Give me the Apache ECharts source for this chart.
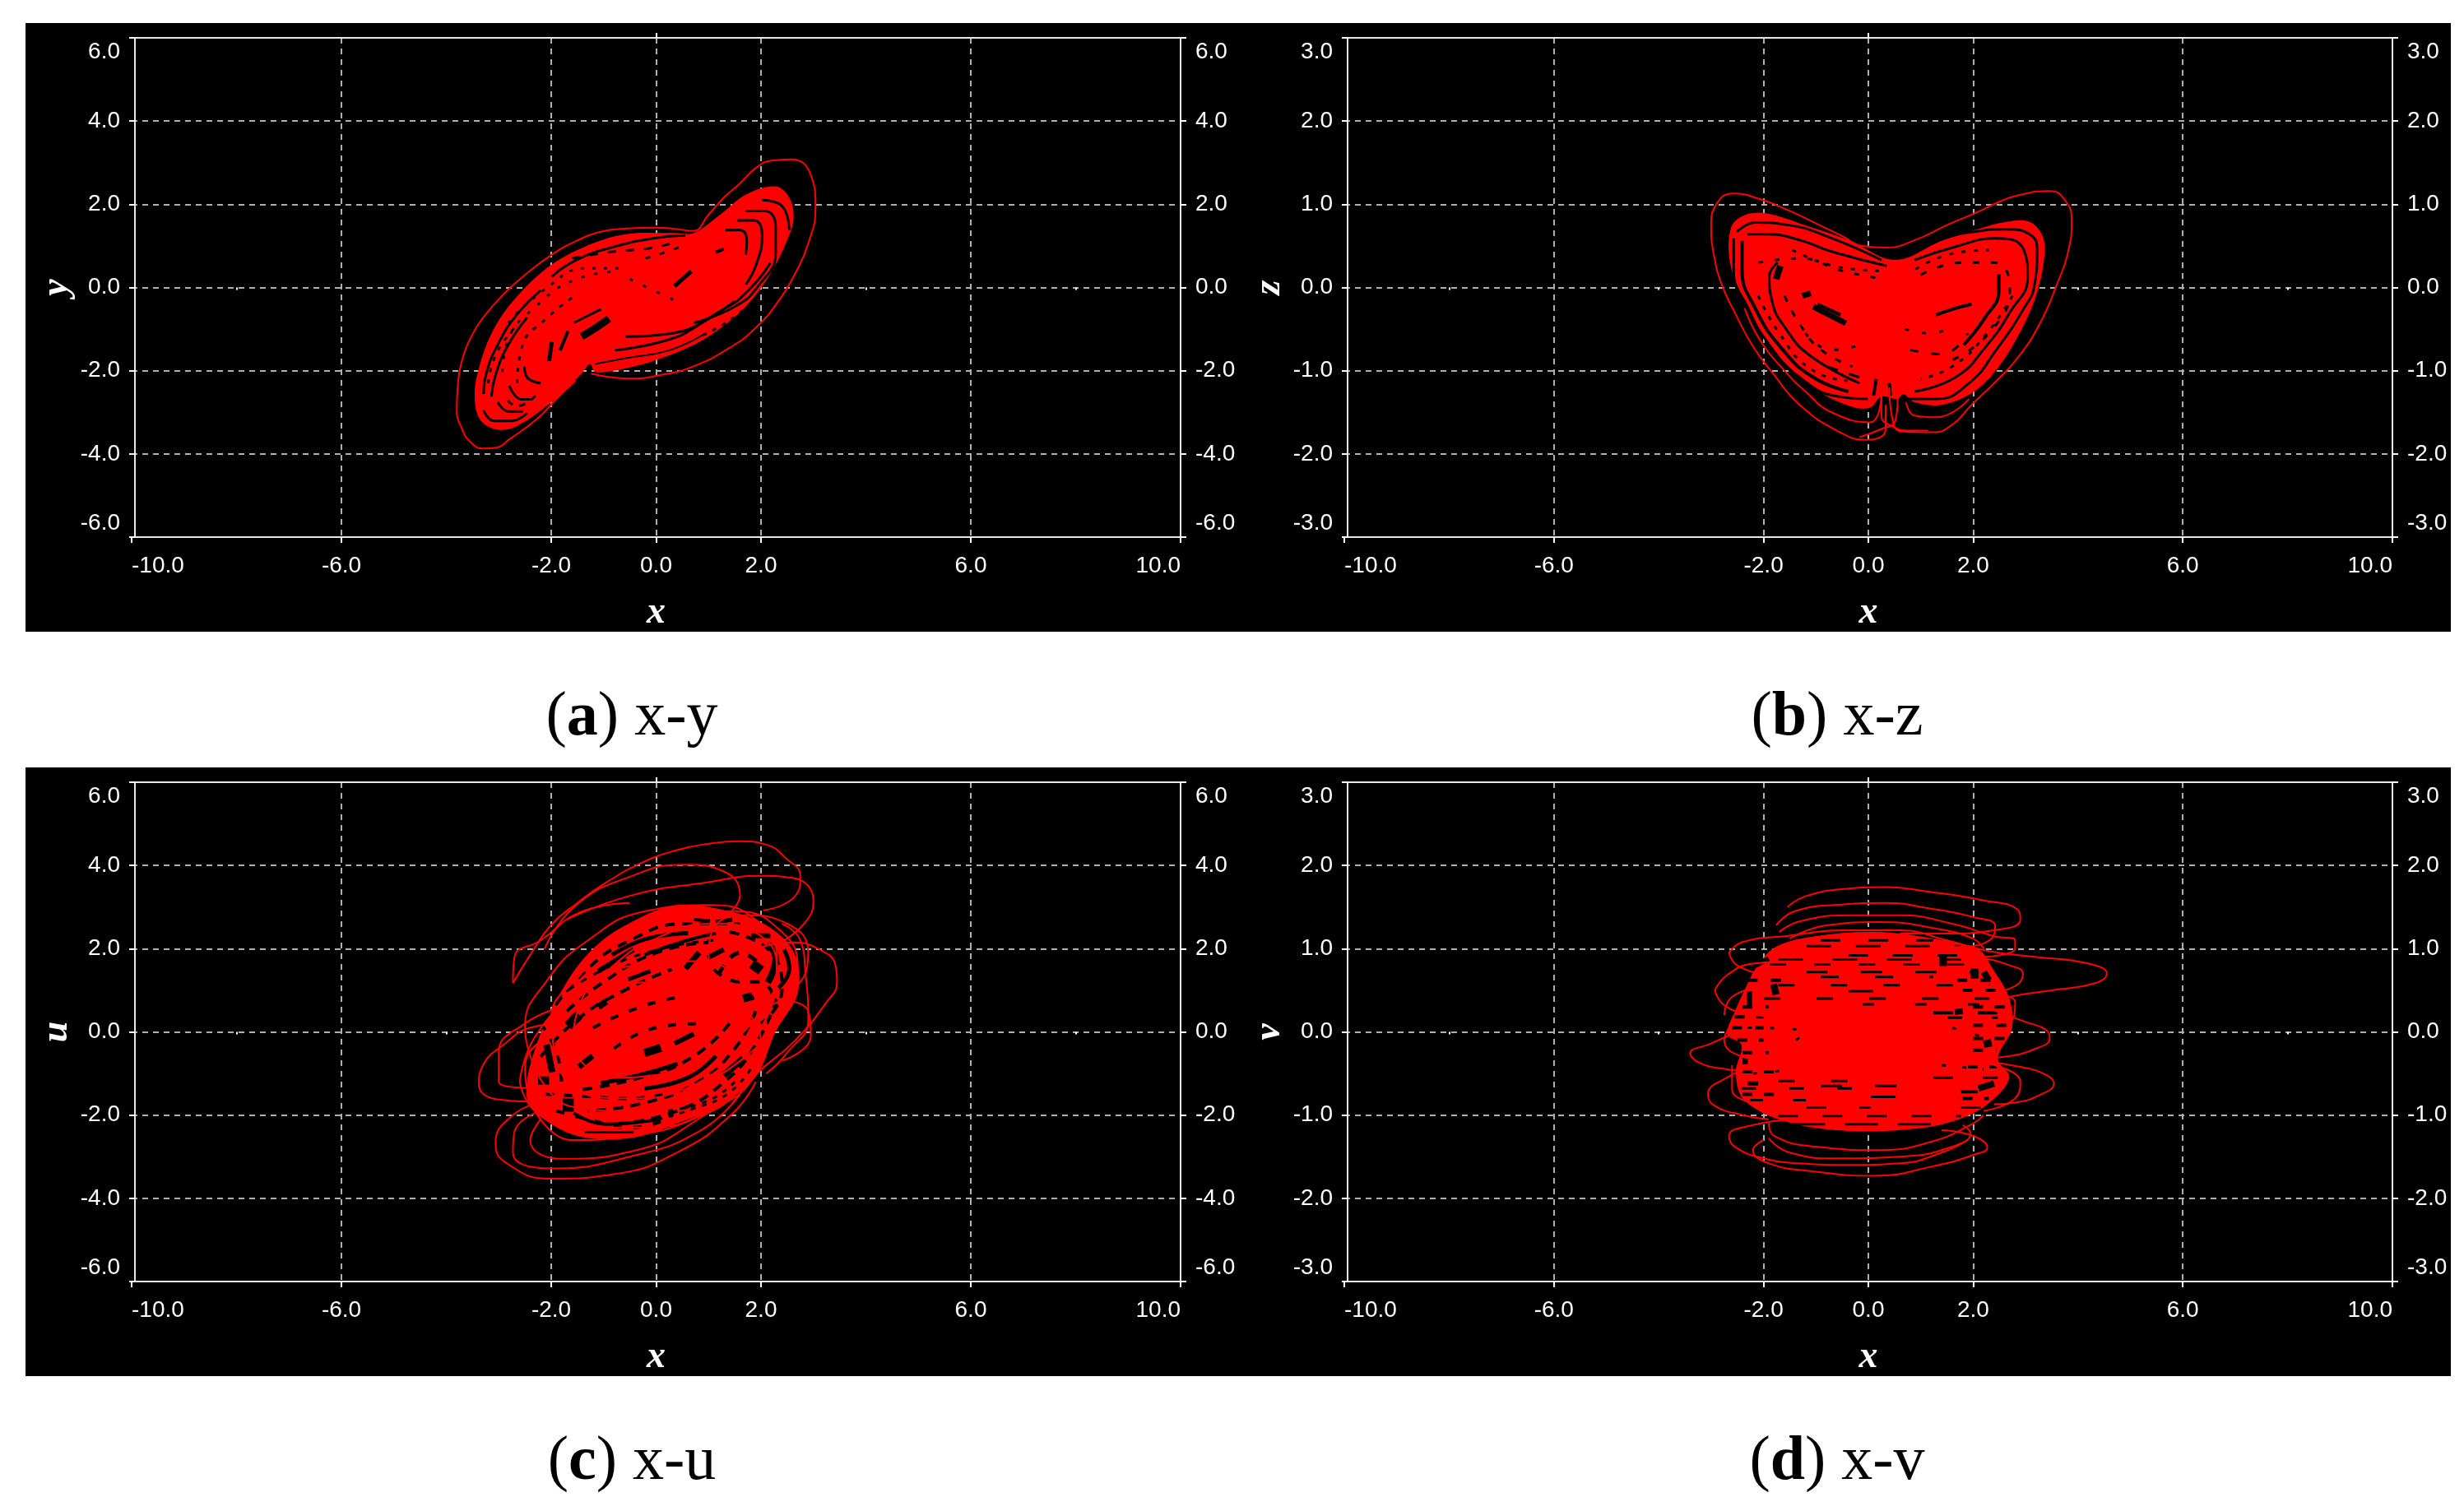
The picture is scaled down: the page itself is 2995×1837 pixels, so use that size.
<!DOCTYPE html>
<html><head><meta charset="utf-8">
<style>html,body{margin:0;padding:0;background:#fff}#c{width:2995px;height:1837px}</style>
<script src="https://cdn.jsdelivr.net/npm/echarts@6/dist/echarts.min.js"></script></head>
<body><div id="c"></div>
<script>
const xTickLabels=['-10.0','-6.0','-2.0','0.0','2.0','6.0','10.0'];
const xMinorTicks=[-8,-4,4,8];
const captionLetters=['a','b','c','d'];
const captionPairs=['x-y','x-z','x-u','x-v'];
const yNames=['y','z','u','v'];

/* a: x-y */
const xyBody=[[-3.06,-3.41],[-3.37,-3.15],[-3.46,-2.56],[-3.37,-1.9],[-3.14,-1.11],[-2.77,-0.39],[-2.09,0.46],[-1.36,0.98],[-0.58,1.28],[0.35,1.31],[0.72,1.31],[1.24,1.77],[1.71,2.23],[2.28,2.43],[2.54,2.16],[2.62,1.64],[2.49,1.11],[2.18,0.33],[1.76,-0.39],[1.29,-0.92],[0.72,-1.38],[-0.06,-1.77],[-0.69,-1.97],[-1.16,-2.03],[-1.26,-1.84],[-1.42,-2.07],[-1.99,-2.75],[-2.67,-3.34]];
const xyThin=[
[[-1.24,-2.07],[-0.5,-2.19],[0.1,-2.1],[0.7,-1.9],[1.4,-1.45],[1.9,-0.97],[2.35,-0.3],[2.64,0.31],[2.9,1.05],[3.04,1.94],[2.95,2.7],[2.57,3.08],[2.2,3.05],[1.9,2.87],[1.6,2.5],[1.3,2.17],[1.0,1.75],[0.7,1.36],[0.3,1.42],[-0.04,1.44],[-0.55,1.42],[-1.09,1.33],[-1.55,1.1],[-2,0.78],[-2.5,0.3],[-2.9,-0.15],[-3.25,-0.65],[-3.48,-1.08],[-3.7,-1.75],[-3.78,-2.36],[-3.8,-2.95],[-3.7,-3.4],[-3.55,-3.7],[-3.3,-3.87],[-3.05,-3.85],[-2.8,-3.65],[-2.28,-3.17],[-1.9,-2.68],[-1.54,-2.24]]
];
const xySlits=[
{w:3,d:[[-1.99,0.26],[-1.52,0.66],[-0.79,0.98],[-0.06,1.18],[0.56,1.25]]},
{w:3,d:[[-3.29,-2.56],[-3.23,-2.03],[-3.02,-1.38],[-2.66,-0.66],[-2.2,-0.07]]},
{w:3,d:[[-3.14,-2.62],[-3.06,-2.1],[-2.82,-1.38],[-2.46,-0.72]]},
{w:3,d:[[-3.29,-2.95],[-3.08,-3.21],[-2.77,-3.21],[-2.46,-3.02]]},
{w:3,d:[[-3.02,-2.75],[-2.81,-2.98],[-2.54,-2.98]]},
{w:3,d:[[-2.8,-2.36],[-2.56,-2.69],[-2.4,-2.69]]},
{w:3,d:[[-2.51,-1.9],[-2.46,-2.16],[-2.2,-2.3]]},
{w:9,d:[[-1.42,-1.18],[-1.15,-0.97],[-0.9,-0.75]]},
{w:5,d:[[-2.04,-1.77],[-1.99,-1.31]]},
{w:4,d:[[-1.83,-1.51],[-1.68,-1.05]]},
{w:3,d:[[-1.57,-0.85],[-1.05,-0.52]]},
{w:5,d:[[0.35,0.03],[0.67,0.39]]},
{w:4,d:[[1.14,0.85],[1.29,0.92]]},
{w:3,d:[[1.55,1.61],[1.86,1.61],[2.02,1.25],[1.92,0.59],[1.71,0.07]]},
{w:3,d:[[1.32,1.38],[1.6,1.38],[1.73,1.11],[1.71,0.79]]},
{w:3,d:[[1.71,1.84],[2.07,1.84],[2.28,1.44],[2.28,0.85],[1.97,0.07],[1.5,-0.46],[0.72,-0.85]]},
{w:3,d:[[2.02,2.1],[2.39,1.97],[2.54,1.38]]},
{w:3,d:[[2.18,0.59],[1.76,-0.07],[1.29,-0.52],[0.25,-1.11],[-0.58,-1.18]]},
{w:3,d:[[1.5,-0.33],[0.88,-0.85],[0.25,-1.25],[-0.79,-1.51]]},
{w:2,d:[[0.93,-1.11],[0.25,-1.51],[-0.58,-1.7],[-1.16,-1.84]]},
{w:3,t:[4,10],d:[[-2.82,-0.85],[-2.15,-0.07],[-1.31,0.46],[-0.58,0.46]]},
{w:3,t:[4,12],d:[[-2.93,-2.03],[-2.82,-1.25],[-2.35,-0.52],[-1.52,0.2],[-0.69,0.39]]},
{w:3,t:[4,14],d:[[-0.5,0.2],[0.0,-0.1],[0.5,-0.4]]},
{w:3,t:[10,12],d:[[-1.6,0.7],[-0.9,0.85],[-0.1,0.95],[0.4,1.1]]},
{w:3,t:[5,9],d:[[-2.65,-2.3],[-2.55,-1.4],[-2.1,-0.75],[-1.55,-0.2]]},
{w:3,t:[5,9],d:[[-3.2,-2.3],[-3.05,-1.6],[-2.65,-0.9]]},
{w:3,t:[5,8],d:[[1.95,-0.2],[1.45,-0.75],[0.8,-1.2]]},
{w:3,t:[8,8],d:[[-2.3,-2.6],[-2.65,-2.85],[-2.9,-2.6]]},
{w:3,t:[6,12],d:[[-0.2,0.7],[0.3,0.9],[0.6,1.05]]}
];

/* b: x-z */
const xzBody=[[-2.62,0.72],[-2.36,0.87],[-1.94,0.89],[-1.21,0.75],[-0.38,0.57],[0.51,0.33],[1.4,0.56],[2.08,0.7],[2.65,0.79],[3.07,0.79],[3.33,0.61],[3.35,0.33],[3.2,-0.1],[2.91,-0.52],[2.49,-0.95],[2.02,-1.25],[1.4,-1.41],[0.88,-1.38],[0.67,-1.28],[0.56,-1.34],[0.25,-1.31],[0.04,-1.44],[-0.27,-1.44],[-0.95,-1.25],[-1.52,-0.95],[-2.05,-0.56],[-2.41,-0.1],[-2.64,0.3]];
const xzThin=[
[[0.33,-1.41],[0.33,-1.7],[-0.04,-1.83],[-0.57,-1.73],[-1.31,-1.41],[-1.8,-1.05],[-2.2,-0.71],[-2.55,-0.3],[-2.8,0.04],[-2.95,0.4],[-3,0.74],[-2.9,1.0],[-2.58,1.13],[-2.06,1.06],[-1.5,0.92],[-1.0,0.77],[-0.5,0.62],[-0.12,0.5],[0.33,0.48],[0.93,0.58],[1.5,0.75],[2.1,0.91],[2.5,1.03],[2.87,1.11],[3.46,1.16],[3.75,1.05],[3.88,0.8],[3.8,0.4],[3.6,0.04],[3.3,-0.4],[2.87,-0.83],[2.4,-1.15],[1.97,-1.41],[1.6,-1.65],[1.22,-1.74],[0.63,-1.73],[0.45,-1.55],[0.4,-1.2]],
[[0.25,-1.3],[0.03,-1.62],[-0.7,-1.5],[-1.2,-1.25],[-1.6,-1.0],[-2.05,-0.65],[-2.36,-0.25]],
[[0.72,-1.38],[0.88,-1.54],[1.29,-1.56],[1.92,-1.34]],
[[0.25,-1.15],[0.25,-1.54],[0.46,-1.67],[0.77,-1.72],[1.14,-1.72]],
[[0.56,-1.34],[0.51,-1.61],[0.25,-1.7],[-0.17,-1.8]]
];
const xzSlits=[
{w:3,d:[[-2.51,0.67],[-2.14,0.78],[-1.52,0.75],[-0.69,0.59],[0.25,0.33]]},
{w:3,d:[[-2.31,0.64],[-1.94,0.64],[-1.31,0.57],[-0.69,0.43],[0.35,0.26]]},
{w:3,d:[[-2.57,0.59],[-2.57,0.2],[-2.31,-0.23],[-1.89,-0.69],[-1.31,-1.08],[-0.58,-1.31],[-0.01,-1.34]]},
{w:4,d:[[-2.41,0.56],[-2.41,0.23],[-2.15,-0.26],[-1.63,-0.75],[-1.05,-1.08],[-0.38,-1.25]]},
{w:3,d:[[-1.73,0.3],[-1.89,0.13],[-1.84,-0.16],[-1.58,-0.49],[-1.11,-0.82],[-0.17,-1.15]]},
{w:8,d:[[-1.68,0.26],[-1.76,0.1]]},
{w:7,d:[[-1.05,-0.23],[-0.43,-0.43]]},
{w:4,d:[[-0.97,-0.2],[-0.53,-0.33]]},
{w:7,d:[[-1.26,-0.1],[-1.1,-0.07]]},
{w:3,d:[[0.77,0.46],[1.4,0.59],[2.02,0.67],[2.6,0.7],[3.12,0.62],[3.22,0.43],[3.17,0.03],[2.96,-0.26],[2.44,-0.75],[1.92,-1.15],[1.29,-1.34],[0.77,-1.34]]},
{w:3,d:[[0.88,0.33],[1.66,0.49],[2.44,0.59],[2.96,0.46],[3.04,0.13],[2.7,-0.3],[2.23,-0.72],[1.66,-1.08],[0.88,-1.25]]},
{w:4,d:[[2.49,0.16],[2.49,-0.03],[2.23,-0.36],[1.82,-0.69]]},
{w:4,d:[[1.97,-0.2],[1.61,-0.26],[1.29,-0.33]]},
{w:4,d:[[0.15,-1.1],[0.1,-1.3]]},
{w:4,d:[[0.4,-1.15],[0.42,-1.3]]},
{w:3,t:[14,14],d:[[-0.79,-0.95],[-0.17,-1.08]]},
{w:3,t:[8,12],d:[[-1.6,-0.1],[-1.3,-0.45],[-0.9,-0.75],[-0.3,-0.95]]},
{w:3,t:[6,14],d:[[-2.1,0.3],[-1.3,0.35],[-0.5,0.2],[0.3,0.1]]},
{w:3,t:[8,14],d:[[1.0,0.15],[1.8,0.3],[2.4,0.3],[2.7,0.0],[2.3,-0.55],[1.5,-0.9]]},
{w:3,t:[10,16],d:[[0.8,-0.75],[1.4,-0.8],[1.9,-0.55]]},
{w:3,t:[5,10],d:[[-1.45,0.45],[-0.6,0.25],[0.2,0.2]]},
{w:3,t:[5,9],d:[[-2.1,-0.1],[-1.7,-0.55],[-1.1,-0.98],[-0.4,-1.12]]},
{w:3,t:[5,9],d:[[2.75,-0.1],[2.2,-0.6],[1.6,-0.95],[1.0,-1.1]]},
{w:3,t:[5,10],d:[[0.9,0.22],[1.7,0.42],[2.3,0.45]]},
{w:3,t:[5,16],d:[[-1.2,-0.55],[-0.7,-0.75],[-0.2,-0.7]]},
{w:3,t:[5,16],d:[[0.7,-0.5],[1.2,-0.55],[1.5,-0.5]]}
];

/* c: x-u */
const xuBody=[[-2.46,-1.63],[-2.25,-0.2],[-1.7,1.2],[-1.2,2.0],[-0.6,2.55],[0.35,3.03],[1.4,2.9],[2.18,2.5],[2.65,1.85],[2.7,0.93],[2.28,0.01],[1.92,-1.04],[1.3,-1.7],[0.5,-2.15],[-0.43,-2.54],[-1.36,-2.54],[-1.99,-2.22]];
const xuThin=[
[[-2.73,1.17],[-2.4,1.85],[-2,2.57],[-1.5,3.1],[-0.94,3.6],[-0.3,4.05],[0.4,4.37],[1.0,4.52],[1.6,4.58],[2.1,4.5],[2.45,4.2],[2.75,3.73],[2.6,3.2],[2.04,2.92]],
[[-2.13,1.99],[-1.54,3.03],[-0.5,3.73],[0.55,4.02],[1.3,3.85],[1.6,3.27],[1.45,2.92]],
[[-1.7,2.7],[-0.5,3.27],[1,3.6],[2.0,3.75],[2.6,3.7],[3.0,3.15],[2.8,2.57],[2.3,2.1]],
[[1.9,2.0],[2.6,2.15],[3.1,1.99],[3.42,1.6],[3.45,1.2],[3.24,0.7],[2.64,-0.22],[1.9,-1.03],[1.45,-1.73]],
[[-2.43,-1.67],[-3.03,-1.62],[-3.38,-1.25],[-3.3,-0.8],[-2.9,-0.3],[-2.4,0.1],[-1.8,0.2]],
[[-2.43,-1.35],[-3.0,-1.2],[-3.0,-0.5],[-2.5,0.2],[-1.8,0.6]],
[[-2.2,-1.7],[-2.73,-2.0],[-3.06,-2.66],[-2.88,-3.13],[-2,-3.53],[-0.8,-3.42],[0.4,-2.9],[1.45,-1.97],[1.9,-1.2]],
[[-2.0,-1.8],[-2.7,-2.4],[-2.73,-2.9],[-2,-3.28],[-0.5,-3],[0.85,-2.37],[1.6,-1.5]],
[[-2.2,-2.1],[-2.4,-2.6],[-1.8,-3.05],[-0.4,-2.85],[0.8,-2.1],[1.7,-1.2]],
[[-2.73,1.17],[-2.7,1.8],[-2.2,2.2],[-1.4,2.9],[-0.5,3.1]],
[[2.4,2.6],[2.75,2.2],[2.85,1.4],[2.9,0.3],[2.5,-0.5],[2.1,-1.0]],
[[2.3,0.8],[2.9,0.5],[2.95,-0.1],[2.4,-0.7]],
[[-2.3,-0.9],[-2.5,0.1],[-2.1,1.2],[-1.3,2.2],[-0.2,2.9],[1.0,3.05],[1.9,2.7],[2.3,1.8],[2.2,0.7],[1.6,-0.4],[0.7,-1.3],[-0.5,-1.9],[-1.6,-1.8],[-2.3,-0.9]],
[[-1.9,-0.7],[-2.0,0.3],[-1.5,1.3],[-0.7,2.2],[0.4,2.8],[1.5,2.9],[2.4,2.4],[2.7,1.5],[2.4,0.4],[1.7,-0.6],[0.7,-1.3],[-0.4,-1.6],[-1.4,-1.5],[-1.9,-0.7]],
[[-2.4,-1.7],[-2.5,-0.9],[-2.0,0.0],[-1.1,0.8],[0.0,1.2],[1.1,1.1],[1.8,0.4],[2.0,-0.5],[1.6,-1.4],[0.7,-2.1],[-0.5,-2.5],[-1.6,-2.6],[-2.4,-1.7]],
[[-2.6,-1.2],[-2.3,-0.1],[-1.5,0.9],[-0.4,1.6],[0.8,1.7],[1.7,1.1],[2.1,0.1],[1.9,-1.0],[1.0,-1.9],[-0.2,-2.3],[-1.4,-2.3],[-2.3,-1.9],[-2.6,-1.2]],
[[-1.6,-0.4],[-1.5,0.5],[-0.9,1.5],[0.1,2.3],[1.1,2.6],[2.0,2.3],[2.3,1.5],[2.0,0.5],[1.2,-0.4],[0.2,-1.0],[-0.9,-1.1],[-1.6,-0.4]],
[[1.0,1.9],[1.1,2.5],[1.7,2.8],[2.5,2.6],[2.9,1.9],[2.6,1.0],[1.8,0.6],[1.2,1.0],[1.0,1.9]]
];
const xuSlits=[
{w:6,d:[[-1.1,1.46],[-0.43,1.98]]},{w:5,d:[[-0.53,1.26],[-0.11,1.46]]},{w:7,d:[[0.56,1.52],[0.82,1.91]]},{w:6,d:[[0.98,1.78],[1.29,1.98]]},
{w:12,d:[[-1.68,0.14],[-1.47,0.41]]},{w:8,d:[[-1.1,0.6],[-0.95,0.73]]},{w:10,d:[[-0.22,-0.51],[0.09,-0.38]]},{w:6,d:[[0.35,-0.28],[0.72,-0.05]]},
{w:7,d:[[-1.47,-0.84],[-1.21,-0.58]]},{w:16,d:[[-1.78,-1.76],[-1.57,-1.76]]},
{w:5,d:[[-1.05,-1.23],[-0.32,-1.04],[0.41,-0.77]]},{w:5,d:[[-0.22,-1.36],[0.61,-1.1],[1.14,-0.58]]},
{w:14,d:[[1.86,1.46],[1.97,1.65]]},{w:10,d:[[1.66,0.8],[1.86,0.87]]},{w:6,d:[[1.81,2.31],[2.18,2.31]]},{w:5,d:[[1.14,2.64],[1.45,2.7]]},{w:4,d:[[0.72,2.7],[1.03,2.67]]},
{w:5,d:[[0.61,2.37],[-0.17,2.24],[-0.84,1.85]]},{w:4,d:[[1.14,2.37],[0.51,2.17],[-0.22,1.85]]},
{w:8,d:[[2.13,2.11],[2.28,1.78],[2.13,1.19]]},{w:5,d:[[2.44,1.98],[2.54,1.52],[2.33,1.06]]},{w:8,d:[[1.66,-0.64],[1.29,-1.04]]},
{w:8,d:[[-2.09,-0.31],[-1.98,-0.97]]},{w:10,d:[[-2.25,-1.17],[-2.04,-1.17]]},{w:4,d:[[-1.57,-1.95],[-0.95,-2.22],[0.09,-2.09]]},{w:3,d:[[-1.36,-2.41],[-0.43,-2.41]]},
{w:3,t:[6,8],d:[[1.5,-1.2],[1.0,-1.65],[0.2,-1.9]]},
{w:3,t:[6,8],d:[[1.8,-0.9],[1.35,-1.5],[0.7,-1.85],[0.05,-2.1]]},
{w:3,t:[8,10],d:[[-1.9,0.8],[-1.0,1.5],[0.1,2.0],[1.1,2.2]]},
{w:4,t:[10,14],d:[[-1.2,0.1],[-0.3,0.6],[0.5,0.85]]},
{w:4,t:[10,14],d:[[-0.8,-0.4],[0,0.1],[0.8,0.2]]},
{w:4,t:[12,12],d:[[1.1,1.5],[1.6,1.2],[2.0,1.2],[2.3,0.6]]},
{w:4,t:[10,12],d:[[-2.2,0.2],[-1.9,-0.5],[-1.8,-1.3]]},
{w:4,t:[12,9],d:[[-2.1,0.3],[-1.4,1.4],[-0.5,2.2],[0.6,2.6],[1.6,2.6]]},
{w:4,t:[12,9],d:[[-1.7,0.5],[-1,1.2],[0,1.9],[1,2.15]]},
{w:4,t:[12,9],d:[[-2.2,-0.6],[-1.5,0.3],[-0.6,1.0],[0.3,1.5]]},
{w:4,t:[12,9],d:[[2.3,0.8],[1.9,-0.3],[1.3,-1.2],[0.4,-1.9],[-0.7,-2.2]]},
{w:4,t:[12,9],d:[[1.9,0.5],[1.5,-0.4],[0.8,-1.2],[-0.2,-1.7],[-1.3,-1.9]]},
{w:4,t:[12,9],d:[[1.4,0.2],[0.7,-0.6],[-0.3,-1.1],[-1.5,-1.4]]},
{w:4,t:[12,9],d:[[1.4,2.4],[2.2,1.9],[2.4,1.0],[2.0,0.2]]},
{w:5,t:[12,12],d:[[1.2,1.4],[1.6,1.9],[2.0,1.6]]},
{w:4,t:[10,14],d:[[-1.9,-1.9],[-1.3,-2.1],[-0.5,-2.3],[0.3,-2.05]]},
{w:4,t:[10,12],d:[[-2.1,-1.5],[-1.3,-1.55],[-0.6,-1.6],[0.2,-1.5]]}
];

/* d: x-v */
const xvBody=[[-1.02,1.15],[0.16,1.2],[1.24,1.12],[2.1,0.99],[2.37,0.76],[2.69,0.4],[2.74,0.04],[2.47,-0.32],[2.69,-0.55],[2.31,-0.85],[1.77,-1.04],[0.97,-1.16],[-0.38,-1.19],[-1.56,-1.08],[-2.37,-0.82],[-2.53,-0.49],[-2.42,-0.16],[-2.69,-0.03],[-2.53,0.27],[-2.37,0.49],[-2.15,0.76],[-1.77,1.02]];
const xvThin=[
[[-1.54,1.5],[-1.2,1.63],[-0.4,1.72],[0.3,1.74],[1.2,1.68],[2.2,1.58],[2.85,1.47],[2.9,1.35],[2.4,1.22],[1.5,1.18],[0.6,1.18]],
[[-1.76,1.28],[-1.4,1.45],[-0.5,1.53],[0.3,1.55],[1.2,1.48],[2.0,1.38],[2.42,1.27],[2.35,1.12],[1.7,1.02],[0.6,1.0]],
[[-1.7,1.2],[-1.3,1.33],[-0.3,1.4],[0.6,1.4],[1.6,1.3],[2.4,1.15],[2.8,1.1],[2.8,1.0],[2.2,0.9]],
[[-1.5,1.12],[-0.8,1.28],[0.2,1.32],[1.3,1.24],[2.0,1.12],[2.2,1.0]],
[[-2.66,0.95],[-2.4,1.08],[-1.6,1.15],[-0.4,1.22],[0.6,1.22],[1.5,1.1],[2.3,0.97],[3.2,0.9],[4.2,0.82],[4.55,0.7],[4.3,0.58],[3.5,0.5],[2.85,0.44],[2.4,0.38]],
[[-2.66,0.95],[-2.5,0.8],[-1.9,0.68],[-1.2,0.62]],
[[-2.93,0.5],[-2.7,0.68],[-2.2,0.82],[-1.4,0.85]],
[[-2.93,0.5],[-2.75,0.32],[-2.3,0.22],[-1.7,0.18]],
[[-2.75,0.2],[-2.6,0.42],[-2.0,0.55]],
[[-2.5,0],[-3.0,-0.14],[-3.4,-0.26],[-3.2,-0.38],[-2.8,-0.44],[-2.4,-0.47]],
[[-2.6,0.1],[-2.75,-0.1],[-2.4,-0.3],[-1.9,-0.35]],
[[2.2,0.3],[3.0,0.12],[3.4,0.02],[3.46,-0.08],[3.2,-0.2],[2.6,-0.3],[2.2,-0.32]],
[[2.3,0.45],[2.8,0.36],[2.75,0.15],[2.2,0.1]],
[[2.1,0.9],[2.7,0.8],[2.95,0.7],[2.8,0.55],[2.2,0.45]],
[[2.1,-0.35],[2.9,-0.42],[3.4,-0.52],[3.54,-0.62],[3.3,-0.75],[2.8,-0.85],[2.4,-0.87]],
[[2.4,-0.4],[2.9,-0.6],[2.8,-0.8],[2.2,-0.95]],
[[-2.2,-0.42],[-2.7,-0.55],[-3.06,-0.75],[-2.95,-0.88],[-2.4,-1.0],[-1.9,-1.05]],
[[-2.6,-0.4],[-2.6,-0.7],[-2.2,-0.85]],
[[-1.4,-1.05],[-2.2,-1.12],[-2.66,-1.25],[-2.55,-1.38],[-2.0,-1.52],[-1.3,-1.58],[-0.4,-1.6],[0.6,-1.58],[1.4,-1.45],[1.9,-1.3]],
[[-2.0,-1.3],[-2.2,-1.42],[-1.9,-1.58],[-1.0,-1.68],[0.1,-1.73],[1.2,-1.62],[2.0,-1.48],[2.27,-1.39],[2.0,-1.25],[1.4,-1.18]],
[[-1.9,-1.28],[-1.5,-1.45],[-0.6,-1.52],[0.6,-1.5],[1.6,-1.38],[1.95,-1.22],[1.8,-1.12]],
[[-1.9,-1.1],[-1.8,-1.25],[-1.0,-1.38],[0.2,-1.42],[1.2,-1.32],[2.0,-1.1],[2.2,-1.0]]
];
const xvSlits=[
{w:3,t:[24,34],d:[[-0.91,1.10],[1.24,1.10]]},{w:3,t:[30,30],d:[[-1.18,1.03],[1.77,1.03]]},{w:3,t:[24,30],d:[[-0.38,0.92],[1.77,0.92]]},
{w:3,t:[30,36],d:[[-1.72,0.87],[1.77,0.87]]},{w:3,t:[20,34],d:[[-1.88,0.81],[2.1,0.81]]},{w:3,t:[26,40],d:[[-1.18,0.72],[2.1,0.72]]},
{w:3,t:[22,44],d:[[-0.91,0.66],[1.24,0.66]]},{w:3,t:[20,44],d:[[-1.72,0.56],[2.31,0.56]]},{w:3,t:[30,50],d:[[-0.38,0.49],[0.7,0.49]]},
{w:3,t:[20,44],d:[[-1.99,0.40],[2.31,0.40]]},{w:3,t:[14,50],d:[[-0.11,0.33],[2.53,0.33]]},{w:4,t:[24,30],d:[[1.24,0.23],[2.58,0.23]]},{w:3,t:[18,36],d:[[1.51,0.17],[2.47,0.17]]},
{w:3,t:[24,36],d:[[1.24,-0.55],[2.47,-0.55]]},{w:3,t:[20,44],d:[[-1.72,-0.59],[0.27,-0.59]]},{w:3,t:[26,40],d:[[-0.91,-0.65],[0.7,-0.65]]},
{w:3,t:[18,40],d:[[-2.42,-0.68],[0.05,-0.68]]},{w:4,t:[20,30],d:[[1.77,-0.72],[2.69,-0.72]]},{w:3,t:[30,30],d:[[0.05,-0.78],[0.97,-0.78]]},{w:3,t:[16,36],d:[[-2.26,-0.82],[-0.91,-0.82]]},
{w:3,t:[24,40],d:[[-1.18,-0.91],[0.05,-0.91]]},{w:3,t:[24,30],d:[[1.77,-0.91],[2.31,-0.91]]},{w:3,t:[24,30],d:[[-1.72,-1.01],[1.77,-1.01]]},{w:3,t:[40,24],d:[[-1.45,-1.11],[1.77,-1.11]]},
{w:20,d:[[-2.32,0.39],[-2.22,0.39]]},{w:13,d:[[-1.85,0.5],[-1.72,0.52]]},{w:12,d:[[1.35,0.85],[1.5,0.85]]},{w:12,d:[[1.95,0.7],[2.1,0.7]]},
{w:9,d:[[2.2,-0.15],[2.35,-0.13]]},{w:8,d:[[-2.4,-0.35],[-2.3,-0.35]]},{w:7,d:[[1.65,0.24],[1.8,0.25]]},{w:8,d:[[2.1,-0.68],[2.4,-0.62]]},
{w:8,d:[[2.2,0.72],[2.3,0.62]]},{w:6,d:[[-2.15,0.8],[-1.9,0.88]]},{w:5,d:[[-2.3,-0.62],[-2.1,-0.62]]},
{w:3,t:[5,22],d:[[-2.3,0.05],[-1.2,0.0],[-1.6,-0.2]]},{w:3,t:[5,24],d:[[1.6,0.05],[2.4,-0.1]]},{w:3,t:[5,20],d:[[1.4,-0.4],[2.2,-0.45]]},{w:3,t:[5,22],d:[[-2.2,-0.5],[-1.4,-0.45]]},
{w:4,t:[12,16],d:[[1.7,0.62],[2.4,0.62]]},{w:4,t:[12,16],d:[[1.8,0.5],[2.55,0.5]]},{w:4,t:[12,14],d:[[2.0,0.3],[2.65,0.3]]},{w:4,t:[12,16],d:[[2.0,0.08],[2.7,0.08]]},
{w:4,t:[12,14],d:[[2.0,-0.08],[2.6,-0.08]]},{w:4,t:[12,16],d:[[2.0,-0.22],[2.45,-0.22]]},{w:4,t:[12,14],d:[[1.9,-0.42],[2.45,-0.42]]},{w:4,t:[12,14],d:[[1.8,-0.8],[2.3,-0.8]]},
{w:4,t:[12,16],d:[[-2.3,0.62],[-1.6,0.62]]},{w:4,t:[12,16],d:[[-2.4,0.3],[-1.9,0.3]]},{w:4,t:[12,14],d:[[-2.55,0.18],[-2.0,0.18]]},{w:4,t:[12,16],d:[[-2.6,0.05],[-2.0,0.05]]},
{w:4,t:[12,14],d:[[-2.5,-0.1],[-2.0,-0.1]]},{w:4,t:[12,16],d:[[-2.4,-0.25],[-1.9,-0.25]]},{w:4,t:[12,14],d:[[-2.4,-0.48],[-1.8,-0.48]]},{w:4,t:[12,14],d:[[-2.4,-0.75],[-1.7,-0.75]]}
];

const panels=[
 {body:xyBody,thin:xyThin,slits:xySlits,yMax:6,yStep:2,left:160,right:1435,top:46},
 {body:xzBody,thin:xzThin,slits:xzSlits,yMax:3,yStep:1,left:1634,right:2908,top:46},
 {body:xuBody,thin:xuThin,slits:xuSlits,yMax:6,yStep:2,left:160,right:1435,top:951},
 {body:xvBody,thin:xvThin,slits:xvSlits,yMax:3,yStep:1,left:1634,right:2908,top:951}
];
const gridH=607;
const white='#e8e8e8', dash='#b0b0b0', font='"Liberation Sans"';
const grid=[],xAxis=[],yAxis=[],series=[],title=[];
panels.forEach((p,i)=>{
 grid.push({left:p.left,top:p.top,width:p.right-p.left,height:gridH});
 const axisLine={show:true,onZero:false,lineStyle:{color:white,width:2}};
 const split={show:true,showMinLine:false,showMaxLine:false,lineStyle:{color:dash,width:2,type:[7,6]}};
 const nameStyle={color:'#fff',fontFamily:'"Liberation Serif"',fontStyle:'italic',fontWeight:'bold',fontSize:46};
 xAxis.push({type:'value',gridIndex:i,position:'bottom',min:-10,max:10,interval:2,
  axisLine,axisTick:{show:true,length:7,customValues:[-10,-6,-2,0,2,6,10],lineStyle:{color:'#fff',width:2}},
  axisLabel:{color:'#fff',fontFamily:font,fontSize:28,margin:21,alignMinLabel:'left',alignMaxLabel:'right',showMinLabel:true,showMaxLabel:true,
   formatter:v=>{const s=v.toFixed(1);return xTickLabels.includes(s)?s:'';}},
  splitLine:split,name:'x',nameLocation:'middle',nameGap:69,nameTextStyle:nameStyle});
 xAxis.push({type:'value',gridIndex:i,position:'top',min:-10,max:10,interval:2,axisLine,
  axisTick:{show:true,length:6,customValues:[0],lineStyle:{color:'#fff',width:2}},axisLabel:{show:false},splitLine:{show:false}});
 xAxis.push({type:'value',gridIndex:i,position:'bottom',min:-10,max:10,interval:2,axisLine:{show:false},
  axisTick:{show:true,length:3,customValues:xMinorTicks,lineStyle:{color:'#fff',width:2}},axisLabel:{show:false},splitLine:{show:false}});
 const yLabel={color:'#fff',fontFamily:font,fontSize:28,lineHeight:34,margin:18,verticalAlignMinLabel:'bottom',verticalAlignMaxLabel:'top',showMinLabel:true,showMaxLabel:true,formatter:v=>v.toFixed(1)};
 const yBase={type:'value',gridIndex:i,min:-p.yMax,max:p.yMax,interval:p.yStep,axisLine,
  axisTick:{show:true,length:7,lineStyle:{color:'#fff',width:2}}};
 yAxis.push({...yBase,position:'left',offset:-4,axisLabel:yLabel,splitLine:split,
  name:yNames[i],nameLocation:'middle',nameGap:72,nameTextStyle:nameStyle});
 yAxis.push({...yBase,position:'right',axisLabel:yLabel,splitLine:{show:false}});
 const common={xAxisIndex:3*i,yAxisIndex:2*i,silent:true};
 series.push({...common,type:'custom',coordinateSystem:'cartesian2d',z:3,data:p.body,clip:false,
  renderItem:(params,api)=>params.dataIndex===0?{type:'polygon',shape:{points:p.body.map(q=>api.coord(q)),smooth:0.35},style:{fill:'#ff0000'}}:null});
 p.slits.forEach(s=>series.push({...common,type:'line',data:s.d,smooth:0.5,showSymbol:false,symbol:'none',z:4,lineStyle:{color:'#000',width:s.w,type:s.t||'solid'}}));
 p.thin.forEach(d=>series.push({...common,type:'line',data:d,smooth:0.5,showSymbol:false,symbol:'none',z:5,lineStyle:{color:'#ff0000',width:2}}));
 title.push({text:'({b|'+captionLetters[i]+'}) '+captionPairs[i],textAlign:'center',left:i%2?2228:763,top:i<2?830:1735,
  textStyle:{color:'#000',fontFamily:'"Liberation Serif"',fontWeight:'normal',fontSize:76,
   rich:{b:{fontFamily:'"Liberation Serif"',fontWeight:'bold',fontSize:76,color:'#000'}}}});
});
const graphic=[28,933].map(y=>({type:'rect',silent:true,z:-100,shape:{x:31,y,width:2948,height:740},style:{fill:'#000'}}));
const chart=echarts.init(document.getElementById('c'),null,{renderer:'canvas'});
chart.setOption({animation:false,backgroundColor:'#fff',graphic,grid,xAxis,yAxis,series,title});
</script></body></html>
